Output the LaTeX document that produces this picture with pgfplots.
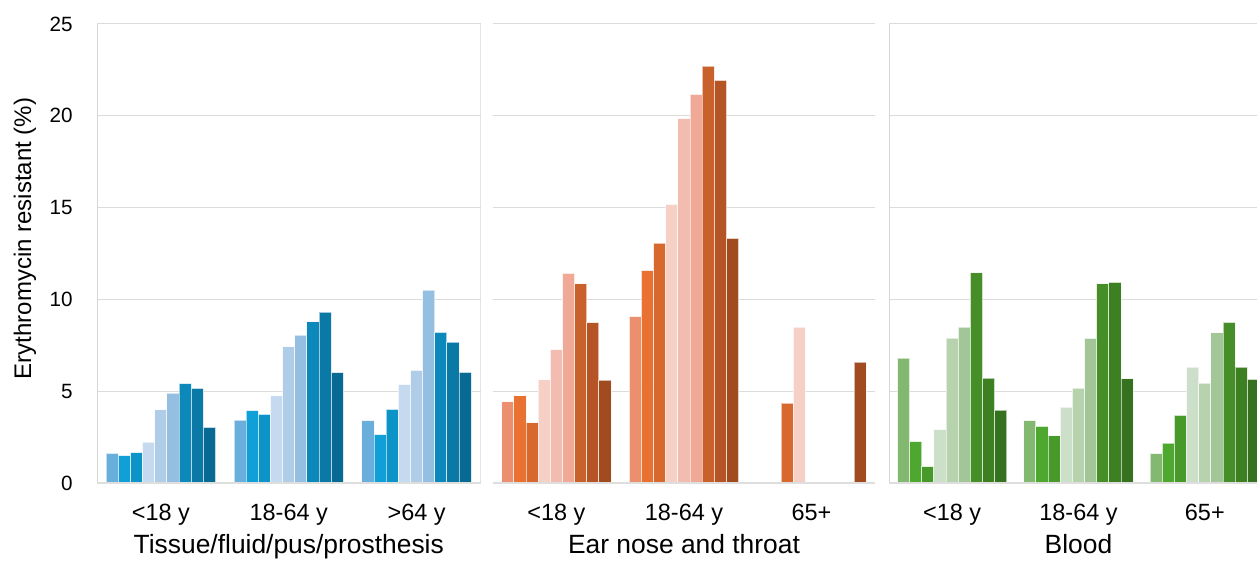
\documentclass[border=0pt]{standalone}
\usepackage{fontspec}
\setmainfont{Liberation Sans}
\usepackage{pgfplots}
\pgfplotsset{compat=1.18}
\usepackage{pgfplotstable}

\newlength\px
\setlength\px{0.75pt}

% blue
\definecolor{b1}{HTML}{6AAEDB}\definecolor{b2}{HTML}{119FD8}\definecolor{b3}{HTML}{0C93C8}
\definecolor{b4}{HTML}{C5DAEE}\definecolor{b5}{HTML}{AFCDE6}\definecolor{b6}{HTML}{94BFE0}
\definecolor{b7}{HTML}{0D88BA}\definecolor{b8}{HTML}{0A79A6}\definecolor{b9}{HTML}{086A93}
% orange
\definecolor{o1}{HTML}{EC8F6F}\definecolor{o2}{HTML}{E97132}\definecolor{o3}{HTML}{D8692E}
\definecolor{o4}{HTML}{F6D0C5}\definecolor{o5}{HTML}{F2BDB0}\definecolor{o6}{HTML}{EFA996}
\definecolor{o7}{HTML}{C8612B}\definecolor{o8}{HTML}{B55526}\definecolor{o9}{HTML}{A04C20}
% green
\definecolor{g1}{HTML}{82B870}\definecolor{g2}{HTML}{4EA72E}\definecolor{g3}{HTML}{479A2A}
\definecolor{g4}{HTML}{CCDFC8}\definecolor{g5}{HTML}{B6D3AE}\definecolor{g6}{HTML}{A2C697}
\definecolor{g7}{HTML}{468F28}\definecolor{g8}{HTML}{3C8022}\definecolor{g9}{HTML}{35711F}
\definecolor{gridgray}{HTML}{DCDCDC}
\definecolor{linegray}{HTML}{D6D6D6}

\pgfplotstableread{
x a    b    c    d    e    f     h     i     j
0 1.62 1.49 1.65 2.23 3.98 4.90  5.41  5.16  3.03
1 3.43 3.94 3.74 4.74 7.41 8.06  8.77  9.31  6.01
2 3.40 2.64 4.01 5.36 6.14 10.50 8.20  7.67  6.03
}\tissue

\pgfplotstableread{
x a    b     c     d     e     f     h     i     j
0 4.42 4.75  3.27  5.62  7.27  11.42 10.84 8.73  5.60
1 9.06 11.57 13.06 15.17 19.84 21.17 22.70 21.93 13.33
2 nan  nan   4.35  8.49  nan   nan   nan   nan   6.58
}\ent

\pgfplotstableread{
x a    b    c    d    e    f    h     i     j
0 6.80 2.26 0.89 2.91 7.89 8.49 11.44 5.71  3.97
1 3.40 3.08 2.57 4.13 5.17 7.88 10.84 10.93 5.67
2 1.60 2.17 3.68 6.31 5.44 8.18 8.75  6.31  5.64
}\blood

\pgfplotsset{
  panel/.style={
    scale only axis, anchor=south west, height=459\px,
    ymin=0, ymax=25, xmin=-0.5, xmax=2.5,
    ybar=0pt, bar width=12.15\px,
    ytick={0,5,...,25}, xtick={0,1,2},
    ymajorgrids, grid style={draw=gridgray, line width=1\px},
    axis line style={draw=none}, major tick length=0pt,
    /pgf/number format/assume math mode=true,
    yticklabel style={font=\fontsize{15.5}{19}\selectfont, anchor=east, inner sep=0pt, xshift=-24\px},
    xticklabel style={font=\fontsize{17.6}{20}\selectfont, anchor=base, inner sep=0pt, yshift=-37\px},
    xlabel style={font=\fontsize{19.8}{23}\selectfont, at={(rel axis cs:0.5,0)}, anchor=base, inner sep=0pt, yshift=-70\px},
    every axis plot/.append style={draw=white, draw opacity=0.6, line width=1\px},
  },
}

\begin{document}
\begin{tikzpicture}
\begin{axis}[panel, at={(97\px,78\px)}, width=383.5\px,
  xticklabels={<18 y, 18-64 y, >64 y},
  xlabel={Tissue/fluid/pus/prosthesis},
  ylabel={Erythromycin resistant (\%)},
  ylabel style={font=\fontsize{18}{22}\selectfont, at={(rel axis cs:0,0.533)}, anchor=center, yshift=72\px}]
\addplot[fill=b1] table[x=x,y=a]{\tissue};
\addplot[fill=b2] table[x=x,y=b]{\tissue};
\addplot[fill=b3] table[x=x,y=c]{\tissue};
\addplot[fill=b4] table[x=x,y=d]{\tissue};
\addplot[fill=b5] table[x=x,y=e]{\tissue};
\addplot[fill=b6] table[x=x,y=f]{\tissue};
\addplot[fill=b7] table[x=x,y=h]{\tissue};
\addplot[fill=b8] table[x=x,y=i]{\tissue};
\addplot[fill=b9] table[x=x,y=j]{\tissue};
\draw[linegray, line width=2\px] (rel axis cs:0,0) -- (rel axis cs:0,1);
\draw[linegray, line width=2\px] (rel axis cs:1,0) -- (rel axis cs:1,1);
\draw[linegray!80, line width=2\px] (rel axis cs:0,0) -- (rel axis cs:1,0);
\end{axis}

\begin{axis}[panel, at={(492.7\px,78\px)}, width=382.6\px,
  yticklabels={}, xticklabels={<18 y, 18-64 y, 65+},
  xlabel={Ear nose and throat}]
\addplot[fill=o1] table[x=x,y=a]{\ent};
\addplot[fill=o2] table[x=x,y=b]{\ent};
\addplot[fill=o3] table[x=x,y=c]{\ent};
\addplot[fill=o4] table[x=x,y=d]{\ent};
\addplot[fill=o5] table[x=x,y=e]{\ent};
\addplot[fill=o6] table[x=x,y=f]{\ent};
\addplot[fill=o7] table[x=x,y=h]{\ent};
\addplot[fill=o8] table[x=x,y=i]{\ent};
\addplot[fill=o9] table[x=x,y=j]{\ent};
\draw[linegray!80, line width=2\px] (rel axis cs:0,0) -- (rel axis cs:1,0);
\end{axis}

\begin{axis}[panel, at={(889\px,78\px)}, width=379\px,
  yticklabels={}, xticklabels={<18 y, 18-64 y, 65+},
  xlabel={Blood}]
\addplot[fill=g1] table[x=x,y=a]{\blood};
\addplot[fill=g2] table[x=x,y=b]{\blood};
\addplot[fill=g3] table[x=x,y=c]{\blood};
\addplot[fill=g4] table[x=x,y=d]{\blood};
\addplot[fill=g5] table[x=x,y=e]{\blood};
\addplot[fill=g6] table[x=x,y=f]{\blood};
\addplot[fill=g7] table[x=x,y=h]{\blood};
\addplot[fill=g8] table[x=x,y=i]{\blood};
\addplot[fill=g9] table[x=x,y=j]{\blood};
\draw[linegray, line width=2\px] (rel axis cs:0,0) -- (rel axis cs:0,1);
\draw[linegray!80, line width=2\px] (rel axis cs:0,0) -- (rel axis cs:1,0);
\end{axis}
\pgfresetboundingbox
\useasboundingbox (0,0) rectangle (1257\px,561\px);
\end{tikzpicture}
\end{document}
